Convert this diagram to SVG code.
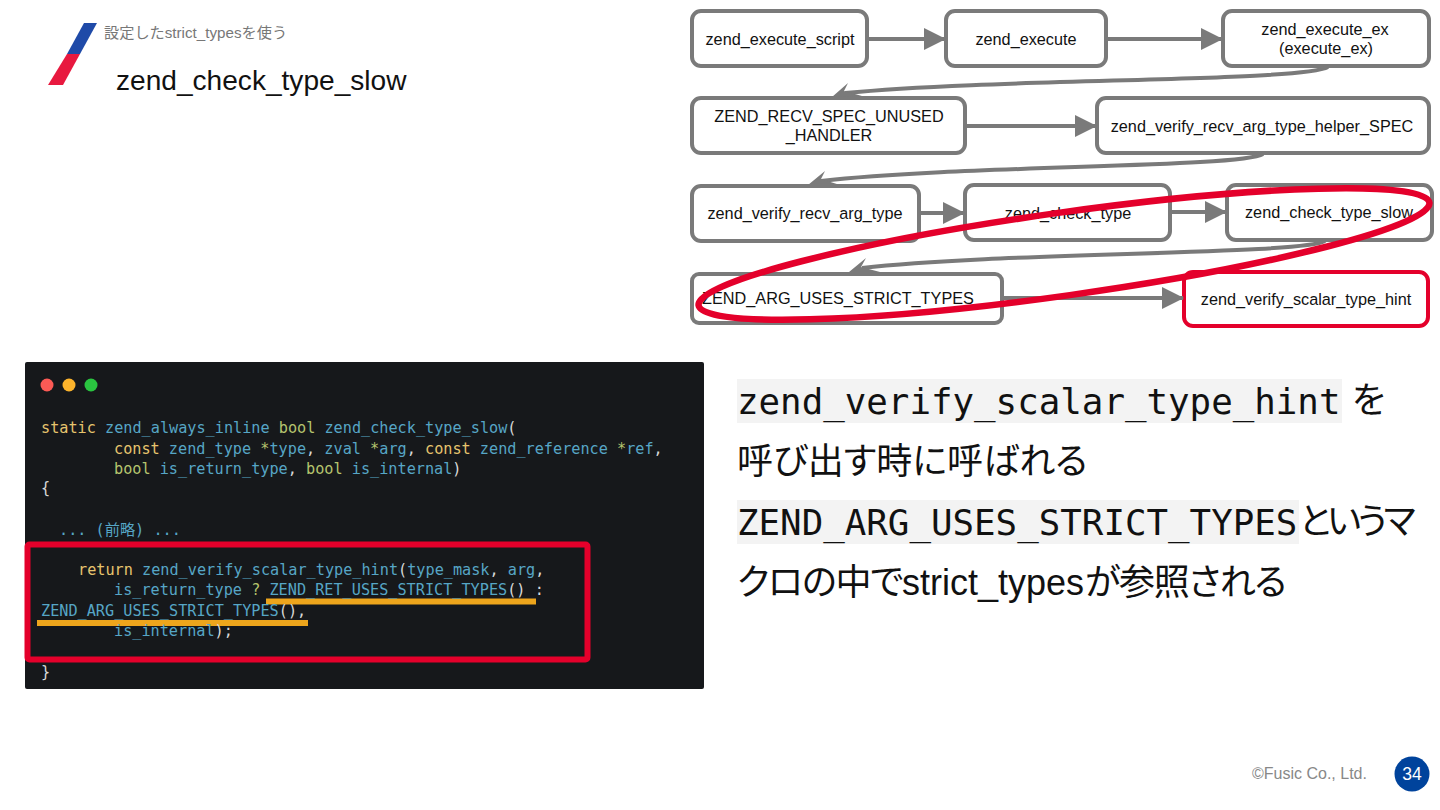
<svg xmlns="http://www.w3.org/2000/svg" width="1440" height="810" viewBox="0 0 1440 810">
<style>
.n{fill:#fff;stroke:#7a7a7a;stroke-width:4}
.r{stroke:#e4002b}
.t{font-family:"Liberation Sans","Noto Sans CJK JP",sans-serif;font-size:16.25px;fill:#111;text-anchor:middle}
.c{stroke:#7a7a7a;stroke-width:4;fill:none}
.a{fill:#7a7a7a}
.m{font-family:"DejaVu Sans Mono","Noto Sans CJK JP",monospace;font-size:15.2px;fill:#56a6c6;white-space:pre}
.k{fill:#e6c46e}
.g{fill:#b5c46e}
.w{fill:#d8d8d8}
.b{font-family:"Liberation Sans","Noto Sans CJK JP",sans-serif;font-size:36px;fill:#111;font-feature-settings:"palt"}
.cd{font-family:"DejaVu Sans Mono",monospace;font-size:35.8px;fill:#111}
</style>
<rect width="1440" height="810" fill="#fff"/>
<g id="logo"><polygon points="84,23 97,23 80,54 67,54" fill="#1f4aa8"/><polygon points="67,54 80,54 63,85 48,85" fill="#e8193f"/></g>
<text id="subtitle" x="104" y="38" font-family="'Liberation Sans','Noto Sans CJK JP',sans-serif" font-size="15.2" fill="#777">設定したstrict_typesを使う</text>
<text id="title" x="116" y="90" font-family="'Liberation Sans',sans-serif" font-size="28.1" fill="#111">zend_check_type_slow</text>

<g id="nodes">
<g id="n1"><rect class="n" x="692" y="11" width="175" height="55" rx="9"/><text class="t" x="780" y="45">zend_execute_script</text></g>
<g id="n2"><rect class="n" x="946" y="11" width="160" height="55" rx="9"/><text class="t" x="1026" y="45">zend_execute</text></g>
<g id="n3"><rect class="n" x="1223" y="11" width="206" height="55" rx="9"/><text class="t" x="1325" y="35">zend_execute_ex</text><text class="t" x="1326" y="54">(execute_ex)</text></g>
<g id="n4"><rect class="n" x="692" y="98" width="273" height="55" rx="9"/><text class="t" x="829" y="122">ZEND_RECV_SPEC_UNUSED</text><text class="t" x="829" y="141">_HANDLER</text></g>
<g id="n5"><rect class="n" x="1097" y="98" width="332" height="55" rx="9"/><text class="t" x="1262" y="132">zend_verify_recv_arg_type_helper_SPEC</text></g>
<g id="n6"><rect class="n" x="692" y="186" width="227" height="55" rx="9"/><text class="t" x="805" y="219">zend_verify_recv_arg_type</text></g>
<g id="n7"><rect class="n" x="965" y="185" width="205" height="55" rx="9"/><text class="t" x="1068" y="219">zend_check_type</text></g>
<g id="n8"><rect class="n" x="1227" y="185" width="205" height="55" rx="9"/><text class="t" x="1329" y="218">zend_check_type_slow</text></g>
<g id="n9"><rect class="n" x="692" y="274" width="310" height="49" rx="7"/><text class="t" x="838" y="304">ZEND_ARG_USES_STRICT_TYPES</text></g>
<g id="n10"><rect class="n r" x="1184" y="272" width="244" height="54" rx="9"/><text class="t" x="1306" y="305">zend_verify_scalar_type_hint</text></g>
</g>

<defs><marker id="ah" viewBox="0 0 22 22" refX="21" refY="11" markerWidth="22" markerHeight="22" markerUnits="userSpaceOnUse" orient="auto"><path class="a" d="M0,0 L22,11 L0,22 Z"/></marker></defs>
<g id="connectors">
<path class="c" marker-end="url(#ah)" d="M868,39 H945"/>
<path class="c" marker-end="url(#ah)" d="M1107,39 H1222"/>
<path class="c" d="M1328,67 C1300,82 1000,78 845,93"/><polygon class="a" points="832,97 848,83 844,91 862,96"/>
<path class="c" marker-end="url(#ah)" d="M966,126 H1096"/>
<path class="c" d="M1263,154 C1240,168 960,165 821,181"/><polygon class="a" points="808,185 825,171 821,179 840,185"/>
<path class="c" marker-end="url(#ah)" d="M920,213 H964"/>
<path class="c" marker-end="url(#ah)" d="M1171,212 H1226"/>
<path class="c" d="M1325,241 C1300,255 1000,252 862,268"/><polygon class="a" points="849,272 866,258 861,267 880,272"/>
<path class="c" marker-end="url(#ah)" d="M1003,298 H1183"/>
</g>
<ellipse id="highlight" cx="1064" cy="254" rx="369" ry="41.500" transform="rotate(-8 1064 254)" fill="none" stroke="#e4002b" stroke-width="6.500"/>

<g id="code">
<rect x="25" y="362" width="679" height="327" rx="2" fill="#16181b"/>
<circle cx="47" cy="385" r="6.500" fill="#fc5a55"/><circle cx="69" cy="385" r="6.500" fill="#fdb42c"/><circle cx="91" cy="385" r="6.500" fill="#2ac540"/>
<text class="m" x="41" y="433"><tspan class="k">static</tspan> zend_always_inline <tspan class="g">bool</tspan> zend_check_type_slow<tspan class="w">(</tspan></text>
<text class="m" x="114" y="454"><tspan class="k">const</tspan> zend_type <tspan class="g">*</tspan>type<tspan class="w">,</tspan> zval <tspan class="g">*</tspan>arg<tspan class="w">,</tspan> <tspan class="k">const</tspan> zend_reference <tspan class="g">*</tspan>ref<tspan class="w">,</tspan></text>
<text class="m" x="114" y="474"><tspan class="g">bool</tspan> is_return_type<tspan class="w">,</tspan> <tspan class="g">bool</tspan> is_internal<tspan class="w">)</tspan></text>
<text class="m w" x="41" y="493">{</text>
<text class="m" x="59" y="535">... (前略) ...</text>
<text class="m" x="78" y="575"><tspan class="k">return</tspan> zend_verify_scalar_type_hint<tspan class="w">(</tspan>type_mask<tspan class="w">,</tspan> arg<tspan class="w">,</tspan></text>
<rect x="266" y="598.500" width="270" height="6" fill="#eda51c"/>
<rect x="37" y="620" width="271" height="6" fill="#eda51c"/>
<text class="m" x="114" y="594.500">is_return_type <tspan class="g">?</tspan> ZEND_RET_USES_STRICT_TYPES<tspan class="w">()</tspan> <tspan class="w">:</tspan></text>
<text class="m" x="41" y="615.500">ZEND_ARG_USES_STRICT_TYPES<tspan class="w">(),</tspan></text>
<text class="m" x="114" y="636">is_internal<tspan class="w">);</tspan></text>
<text class="m w" x="41" y="677">}</text>
<rect x="27.500" y="544.500" width="560" height="115" rx="2" fill="none" stroke="#e4002b" stroke-width="6"/>
</g>

<g id="body">
<rect x="737" y="379" width="605" height="44" fill="#f3f3f3"/>
<rect x="737" y="500" width="562" height="44" fill="#f3f3f3"/>
<text class="cd" x="737" y="414">zend_verify_scalar_type_hint</text>
<text class="b" x="1352" y="413">を</text>
<text class="b" x="737" y="474">呼び出す時に呼ばれる</text>
<text class="cd" x="737" y="535">ZEND_ARG_USES_STRICT_TYPES</text>
<text class="b" x="1299" y="534" letter-spacing="-3.7">というマ</text>
<text class="b" x="737" y="595"><tspan letter-spacing="-1.2">クロの中で</tspan><tspan x="902">strict_types</tspan><tspan x="1085" letter-spacing="-1.2">が参照される</tspan></text>
</g>

<g id="footer">
<text x="1252" y="779" font-family="'Liberation Sans',sans-serif" font-size="16" fill="#888">©Fusic Co., Ltd.</text>
<circle cx="1412" cy="774" r="17.500" fill="#00439c"/>
<text x="1412" y="780" font-family="'Liberation Sans',sans-serif" font-size="17.500" fill="#fff" text-anchor="middle">34</text>
</g>
</svg>
